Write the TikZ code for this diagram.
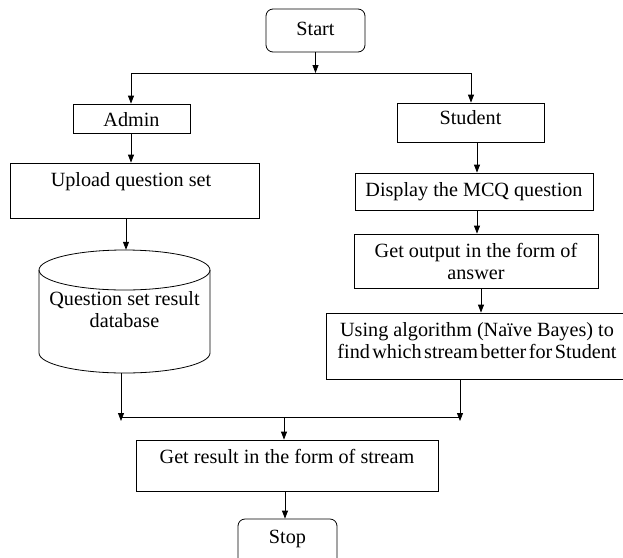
\documentclass[tikz,border=0pt]{standalone}
\usepackage{fontspec}
\setmainfont{Liberation Serif}
\usetikzlibrary{arrows.meta}
\begin{document}
\begin{tikzpicture}[x=1pt,y=-1pt,
  box/.style={draw, line width=0.8pt, inner sep=0pt},
  rbox/.style={box, rounded corners=7pt},
  lbl/.style={inner sep=0pt, anchor=base, font=\fontsize{20.2}{22}\selectfont, align=center},
  arr/.style={-{Triangle[length=8pt,width=6pt]}, line width=0.8pt},
  ln/.style={line width=0.8pt}]
\useasboundingbox (0,0) rectangle (623,557);
\clip (0,0) rectangle (623,557);
% boxes
\node[rbox, minimum width=99pt, minimum height=43pt] (start) at (315.5,30.5) {};
\node[lbl] (tstart) at (315.5,35) {Start};
\node[box, minimum width=117pt, minimum height=29pt] (admin) at (131.5,118.5) {};
\node[lbl] (tadmin) at (131.5,126) {Admin};
\node[box, minimum width=147pt, minimum height=39pt] (student) at (470.5,122.5) {};
\node[lbl] (tstudent) at (470.5,124) {Student};
\node[box, minimum width=249pt, minimum height=55pt] (upload) at (134.5,190.5) {};
\node[lbl] (tupload) at (131,186) {Upload question set};
% cylinder
\draw[ln] (39,270) -- (39,353) arc[start angle=180, end angle=360, x radius=85.5pt, y radius=20pt] -- (210,270);
\draw[ln] (124.5,270) ellipse[x radius=85.5pt, y radius=20pt];
\node[inner sep=0pt, minimum width=171pt, minimum height=123pt] (db) at (124.5,311.5) {};
\node[lbl] (tdb) at (124.5,327) {Question set result\\database};
\node[box, minimum width=238pt, minimum height=37pt] (display) at (474,191.5) {};
\node[lbl] (tdisplay) at (474,196) {Display the MCQ question};
\node[box, minimum width=244pt, minimum height=54pt] (getout) at (476,261) {};
\node[lbl] (tgetout) at (476,279) {Get output in the form of\\answer};
\node[box, minimum width=320pt, minimum height=66pt] (using) at (486,346) {};
\node[lbl] (tusing) at (477,358) {Using algorithm (Naïve Bayes) to\\{\spaceskip=0.12em\relax find which stream better for Student}};
\node[box, minimum width=302pt, minimum height=51pt] (result) at (287,465.5) {};
\node[lbl] (tresult) at (287,463) {Get result in the form of stream};
\node[rbox, minimum width=99pt, minimum height=52pt] (stop) at (287.5,545) {};
\node[lbl] (tstop) at (287.5,543) {Stop};
% junctions
\coordinate (j1) at (315.5,73);
\coordinate (jl) at (131,73);
\coordinate (jr) at (471,73);
\coordinate (ml) at (121,417);
\coordinate (mr) at (460,417);
\coordinate (mc) at (284,417);
% connectors
\draw[arr] (start.south) -- (j1);
\draw[ln] (jl) -- (jr);
\draw[arr] (jl) -- (jl |- admin.north);
\draw[arr] (jr) -- (jr |- student.north);
\draw[arr] (admin.south -| jl) -- (jl |- upload.north);
\draw[arr] ([xshift=-8.5pt]upload.south) -- ([xshift=1.5pt]db.north);
\draw[arr] ([xshift=6.5pt]student.south) -- ([xshift=6.5pt]student.south |- display.north);
\draw[arr] ([xshift=3pt]display.south) -- ([xshift=3pt]display.south |- getout.north);
\draw[arr] ([xshift=5pt]getout.south) -- ([xshift=5pt]getout.south |- using.north);
\draw[arr] (db.south -| ml) -- ([yshift=-4pt]ml);
\draw[arr] (using.south -| mr) -- ([yshift=-4pt]mr);
\draw[ln] (ml) -- (mr);
\draw[arr] (mc) -- (mc |- result.north);
\draw[arr] ([xshift=-2pt]result.south) -- ([xshift=-2.5pt]stop.north);
\end{tikzpicture}
\end{document}
